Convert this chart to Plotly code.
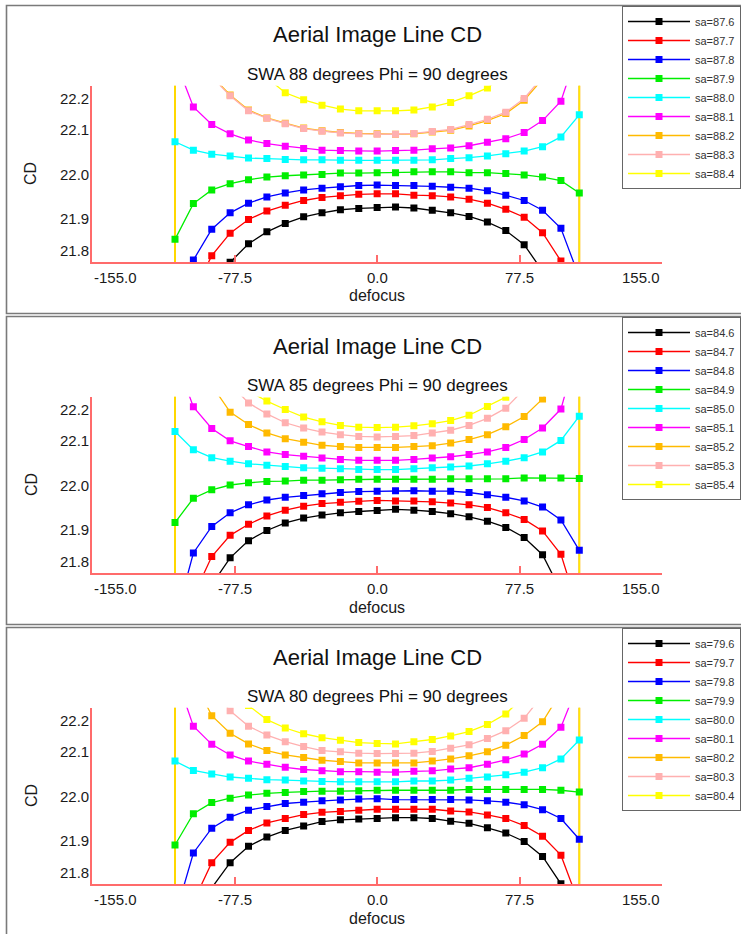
import plotly.graph_objects as go

W, H = 741, 934
FONT = "Liberation Sans, Arial, sans-serif"

# ---------------- data ----------------
defocus = [-110, -100, -90, -80, -70, -60, -50, -40, -30, -20, -10, 0,
           10, 20, 30, 40, 50, 60, 70, 80, 90, 100, 110]
limit_defocus = [-110, 110]

x_range = [-155, 155]
y_range = [21.8, 22.2]
x_ticks = [-155.0, -77.5, 0.0, 77.5, 155.0]
x_ticklabels = ["-155.0", "-77.5", "0.0", "77.5", "155.0"]
y_ticks = [21.8, 21.9, 22.0, 22.1, 22.2]
y_ticklabels = ["21.8", "21.9", "22.0", "22.1", "22.2"]

chart_title = "Aerial Image Line CD"
subtitles = ["SWA 88 degrees Phi = 90 degrees",
             "SWA 85 degrees Phi = 90 degrees",
             "SWA 80 degrees Phi = 90 degrees"]
x_title = "defocus"
y_title = "CD"

sa_swa88 = ["sa=87.6", "sa=87.7", "sa=87.8", "sa=87.9", "sa=88.0", "sa=88.1", "sa=88.2", "sa=88.3", "sa=88.4"]
sa_swa85 = ["sa=84.6", "sa=84.7", "sa=84.8", "sa=84.9", "sa=85.0", "sa=85.1", "sa=85.2", "sa=85.3", "sa=85.4"]
sa_swa80 = ["sa=79.6", "sa=79.7", "sa=79.8", "sa=79.9", "sa=80.0", "sa=80.1", "sa=80.2", "sa=80.3", "sa=80.4"]

series_colors = ["#000000", "#FF0000", "#0000FF", "#00EE00", "#00FFFF",
                 "#FF00FF", "#FFBA00", "#FFB0B0", "#FFFF00"]

# SWA 88
cd88_s0 = [21.45, 21.60, 21.72, 21.800, 21.842, 21.869, 21.888, 21.903, 21.912, 21.919, 21.922, 21.924, 21.925, 21.923, 21.918, 21.912, 21.904, 21.891, 21.872, 21.840, 21.78, 21.66, 21.48]
cd88_s1 = [21.50, 21.73, 21.815, 21.866, 21.897, 21.916, 21.929, 21.940, 21.947, 21.951, 21.954, 21.955, 21.955, 21.952, 21.951, 21.948, 21.943, 21.934, 21.920, 21.902, 21.867, 21.803, 21.65]
cd88_s2 = [21.62, 21.805, 21.875, 21.912, 21.934, 21.948, 21.957, 21.964, 21.968, 21.971, 21.974, 21.975, 21.974, 21.974, 21.972, 21.970, 21.968, 21.962, 21.952, 21.940, 21.918, 21.877, 21.766]
cd88_s3 = [21.852, 21.933, 21.964, 21.978, 21.987, 21.993, 21.996, 21.998, 21.999, 22.002, 22.002, 22.003, 22.003, 22.005, 22.005, 22.005, 22.003, 22.003, 22.001, 21.998, 21.993, 21.985, 21.957]
cd88_s4 = [22.073, 22.054, 22.045, 22.041, 22.036, 22.035, 22.033, 22.032, 22.032, 22.031, 22.031, 22.031, 22.031, 22.031, 22.032, 22.035, 22.037, 22.041, 22.046, 22.052, 22.062, 22.084, 22.134]
cd88_s5 = [22.26, 22.152, 22.112, 22.091, 22.077, 22.069, 22.063, 22.058, 22.054, 22.053, 22.052, 22.052, 22.053, 22.054, 22.057, 22.059, 22.064, 22.072, 22.080, 22.094, 22.121, 22.165, 22.29]
cd88_s6 = [22.43, 22.32, 22.222, 22.179, 22.145, 22.127, 22.115, 22.104, 22.098, 22.094, 22.092, 22.091, 22.090, 22.091, 22.095, 22.099, 22.109, 22.121, 22.137, 22.167, 22.215, 22.32, 22.43]
cd88_s7 = [22.45, 22.34, 22.220, 22.177, 22.143, 22.126, 22.114, 22.103, 22.097, 22.093, 22.091, 22.090, 22.090, 22.092, 22.096, 22.101, 22.112, 22.124, 22.140, 22.171, 22.22, 22.34, 22.45]
cd88_s8 = [22.70, 22.50, 22.36, 22.28, 22.24, 22.218, 22.184, 22.168, 22.156, 22.147, 22.143, 22.143, 22.143, 22.145, 22.152, 22.162, 22.177, 22.195, 22.225, 22.27, 22.35, 22.47, 22.65]

# SWA 85
cd85_s0 = [21.55, 21.68, 21.774, 21.835, 21.874, 21.897, 21.914, 21.925, 21.932, 21.937, 21.940, 21.942, 21.945, 21.943, 21.940, 21.935, 21.928, 21.918, 21.904, 21.881, 21.842, 21.76, 21.62]
cd85_s1 = [21.62, 21.748, 21.838, 21.886, 21.911, 21.930, 21.943, 21.952, 21.958, 21.961, 21.963, 21.965, 21.964, 21.964, 21.962, 21.959, 21.955, 21.949, 21.937, 21.922, 21.896, 21.843, 21.71]
cd85_s2 = [21.69, 21.846, 21.906, 21.937, 21.955, 21.966, 21.972, 21.976, 21.980, 21.983, 21.985, 21.986, 21.987, 21.987, 21.986, 21.986, 21.983, 21.978, 21.972, 21.964, 21.950, 21.921, 21.852]
cd85_s3 = [21.915, 21.970, 21.989, 22.000, 22.005, 22.008, 22.009, 22.011, 22.011, 22.012, 22.013, 22.013, 22.013, 22.013, 22.013, 22.014, 22.014, 22.014, 22.014, 22.016, 22.016, 22.016, 22.015]
cd85_s4 = [22.121, 22.080, 22.062, 22.054, 22.048, 22.045, 22.042, 22.039, 22.038, 22.037, 22.035, 22.035, 22.035, 22.037, 22.039, 22.041, 22.043, 22.048, 22.054, 22.062, 22.075, 22.101, 22.156]
cd85_s5 = [22.29, 22.177, 22.128, 22.100, 22.087, 22.075, 22.069, 22.065, 22.061, 22.058, 22.056, 22.056, 22.056, 22.058, 22.061, 22.064, 22.069, 22.075, 22.085, 22.103, 22.129, 22.172, 22.32]
cd85_s6 = [22.45, 22.33, 22.226, 22.165, 22.137, 22.118, 22.105, 22.097, 22.090, 22.087, 22.085, 22.085, 22.085, 22.087, 22.089, 22.095, 22.103, 22.114, 22.132, 22.155, 22.195, 22.26, 22.40]
cd85_s7 = [22.55, 22.40, 22.30, 22.229, 22.186, 22.161, 22.141, 22.129, 22.120, 22.114, 22.110, 22.109, 22.110, 22.112, 22.118, 22.124, 22.135, 22.151, 22.174, 22.217, 22.28, 22.38, 22.52]
cd85_s8 = [22.70, 22.50, 22.36, 22.27, 22.213, 22.190, 22.171, 22.154, 22.143, 22.135, 22.131, 22.130, 22.131, 22.134, 22.139, 22.146, 22.158, 22.178, 22.199, 22.225, 22.30, 22.42, 22.60]

# SWA 80
cd80_s0 = [21.55, 21.69, 21.792, 21.849, 21.886, 21.907, 21.922, 21.932, 21.942, 21.946, 21.948, 21.949, 21.951, 21.951, 21.949, 21.943, 21.938, 21.928, 21.916, 21.897, 21.863, 21.801, 21.68]
cd80_s1 = [21.62, 21.76, 21.849, 21.895, 21.922, 21.939, 21.949, 21.958, 21.963, 21.965, 21.968, 21.970, 21.970, 21.970, 21.970, 21.966, 21.964, 21.957, 21.949, 21.933, 21.909, 21.866, 21.755]
cd80_s2 = [21.727, 21.871, 21.927, 21.952, 21.968, 21.976, 21.983, 21.986, 21.989, 21.991, 21.993, 21.994, 21.992, 21.992, 21.992, 21.992, 21.991, 21.989, 21.986, 21.980, 21.969, 21.949, 21.902]
cd80_s3 = [21.889, 21.960, 21.985, 21.995, 22.002, 22.006, 22.008, 22.010, 22.011, 22.011, 22.012, 22.013, 22.013, 22.013, 22.013, 22.013, 22.015, 22.015, 22.015, 22.015, 22.015, 22.013, 22.009]
cd80_s4 = [22.079, 22.058, 22.050, 22.043, 22.040, 22.037, 22.036, 22.034, 22.033, 22.032, 22.032, 22.032, 22.032, 22.034, 22.034, 22.036, 22.040, 22.043, 22.048, 22.054, 22.064, 22.084, 22.127]
cd80_s5 = [22.28, 22.158, 22.117, 22.093, 22.079, 22.072, 22.065, 22.060, 22.057, 22.055, 22.055, 22.054, 22.054, 22.056, 22.057, 22.061, 22.064, 22.072, 22.082, 22.095, 22.117, 22.156, 22.26]
cd80_s6 = [22.42, 22.265, 22.182, 22.142, 22.118, 22.103, 22.093, 22.087, 22.081, 22.078, 22.075, 22.075, 22.075, 22.075, 22.079, 22.084, 22.091, 22.100, 22.115, 22.137, 22.168, 22.235, 22.38]
cd80_s7 = [22.55, 22.38, 22.245, 22.193, 22.158, 22.138, 22.123, 22.112, 22.103, 22.100, 22.097, 22.096, 22.096, 22.097, 22.101, 22.108, 22.116, 22.130, 22.148, 22.176, 22.228, 22.32, 22.48]
cd80_s8 = [22.55, 22.40, 22.29, 22.235, 22.205, 22.173, 22.154, 22.141, 22.132, 22.126, 22.121, 22.119, 22.118, 22.123, 22.128, 22.136, 22.146, 22.162, 22.186, 22.226, 22.30, 22.40, 22.55]

panels = [
    (subtitles[0], sa_swa88, [cd88_s0, cd88_s1, cd88_s2, cd88_s3, cd88_s4, cd88_s5, cd88_s6, cd88_s7, cd88_s8]),
    (subtitles[1], sa_swa85, [cd85_s0, cd85_s1, cd85_s2, cd85_s3, cd85_s4, cd85_s5, cd85_s6, cd85_s7, cd85_s8]),
    (subtitles[2], sa_swa80, [cd80_s0, cd80_s1, cd80_s2, cd80_s3, cd80_s4, cd80_s5, cd80_s6, cd80_s7, cd80_s8]),
]

# ---------------- layout geometry (pixels) ----------------
PANEL_STEP = 311
PLOT_LEFT, PLOT_RIGHT = 92.3, 662.0
PLOT_TOP, PLOT_BOTTOM = 85.7, 262.3
AXIS_RED = "#FF6B6B"
TEXT = "#1a1a1a"


def px(xp):
    return xp / W


def py(yp):
    return 1 - yp / H


fig = go.Figure()
layout = dict(
    width=W, height=H, autosize=False,
    margin=dict(l=0, r=0, t=0, b=0, autoexpand=False),
    paper_bgcolor="white", plot_bgcolor="white",
    font=dict(family=FONT, color=TEXT),
    showlegend=True,
)
annotations = []
shapes = []

for p, (subtitle, names, series) in enumerate(panels):
    off = p * PANEL_STEP
    sfx = "" if p == 0 else str(p + 1)
    xa, ya = "x" + sfx, "y" + sfx
    leg = "legend" + sfx

    top_px, bot_px = PLOT_TOP + off, PLOT_BOTTOM + off

    layout["xaxis" + sfx] = dict(
        domain=[px(PLOT_LEFT), px(PLOT_RIGHT)], range=x_range, anchor=ya,
        showgrid=False, zeroline=False, showline=True, linecolor=AXIS_RED,
        linewidth=2, ticks="inside", tickvals=x_ticks, ticklen=7,
        tickcolor=AXIS_RED, tickwidth=1.5, showticklabels=False, fixedrange=True)
    layout["yaxis" + sfx] = dict(
        domain=[py(bot_px), py(top_px)], range=y_range, anchor=xa,
        showgrid=False, zeroline=False, showline=True, linecolor=AXIS_RED,
        linewidth=2, ticks="inside", tickvals=[y_ticks[-1]], ticklen=6,
        tickcolor=AXIS_RED, tickwidth=1.5, showticklabels=False, fixedrange=True)

    # panel frame
    shapes.append(dict(type="rect", xref="paper", yref="paper",
                       x0=px(6.5), x1=px(W + 20),
                       y0=py(5.5 + off), y1=py(313.5 + off if p < 2 else H + 20),
                       line=dict(color="#7a7a7a", width=1.6), layer="below"))

    # boundary verticals
    for lx in limit_defocus:
        shapes.append(dict(type="line", xref=xa, yref=ya + " domain",
                           x0=lx, x1=lx, y0=0, y1=1,
                           line=dict(color="#FFB800", width=2.0), layer="below"))
        shapes.append(dict(type="line", xref=xa, yref=ya + " domain",
                           x0=lx, x1=lx, y0=0, y1=1,
                           line=dict(color="#FFFF00", width=0.9), layer="below"))

    for name, vals, col in zip(names, series, series_colors):
        fig.add_trace(go.Scatter(
            x=defocus, y=vals, mode="lines+markers", name=name,
            line=dict(color=col, width=1.3),
            marker=dict(symbol="square", size=7, color=col),
            xaxis=xa, yaxis=ya, legend=leg, hoverinfo="skip"))

    layout[leg] = dict(
        x=px(622), y=py(6 + off), xanchor="left", yanchor="top",
        bgcolor="white", bordercolor="#666666", borderwidth=1,
        font=dict(family=FONT, size=11, color="#333333"),
        itemwidth=62, tracegroupgap=0, traceorder="normal",
        entrywidth=90, entrywidthmode="pixels")

    # titles
    annotations.append(dict(text=chart_title, xref=xa + " domain", x=0.5,
                            yref="paper", y=py(35 + off), xanchor="center",
                            yanchor="middle", showarrow=False,
                            font=dict(size=22, color="#111111", family=FONT)))
    annotations.append(dict(text=subtitle, xref=xa + " domain", x=0.5,
                            yref="paper", y=py(74 + off), xanchor="center",
                            yanchor="middle", showarrow=False,
                            font=dict(size=17, color="#111111", family=FONT)))
    # axis titles
    annotations.append(dict(text=x_title, xref=xa + " domain", x=0.5,
                            yref="paper", y=py(296 + off), xanchor="center",
                            yanchor="middle", showarrow=False,
                            font=dict(size=16, color=TEXT, family=FONT)))
    annotations.append(dict(text=y_title, xref="paper", x=px(31),
                            yref="paper", y=py(174 + off), xanchor="center",
                            yanchor="middle", textangle=-90, showarrow=False,
                            font=dict(size=16, color=TEXT, family=FONT)))
    # x tick labels (end labels kept inside the axis span)
    for i, (tv, tl) in enumerate(zip(x_ticks, x_ticklabels)):
        anchor = "left" if i == 0 else ("right" if i == len(x_ticks) - 1 else "center")
        annotations.append(dict(text=tl, xref=xa, x=tv, yref="paper",
                                y=py(bot_px + 5), xanchor=anchor, yanchor="top",
                                showarrow=False,
                                font=dict(size=15, color=TEXT, family=FONT)))
    # y tick labels
    for i, (tv, tl) in enumerate(zip(y_ticks, y_ticklabels)):
        if i == 0:
            yanc, ys = "bottom", 1
        elif i == len(y_ticks) - 1:
            yanc, ys = "top", -2
        else:
            yanc, ys = "middle", 0
        annotations.append(dict(text=tl, xref="paper", x=px(91), yref=ya, y=tv,
                                xanchor="right", yanchor=yanc, yshift=ys,
                                showarrow=False,
                                font=dict(size=15, color=TEXT, family=FONT)))

layout["annotations"] = annotations
layout["shapes"] = shapes
fig.update_layout(**layout)
fig.write_html("out.html",
               config={"displayModeBar": False},
               post_script="document.body.style.margin='0px';document.body.style.overflow='hidden';")
